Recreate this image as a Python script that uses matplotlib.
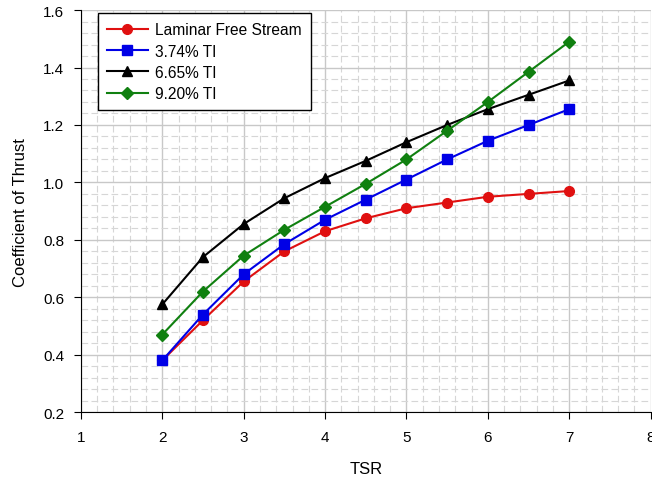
import matplotlib
matplotlib.use('Agg')
import matplotlib.pyplot as plt
from matplotlib.ticker import MultipleLocator

plt.rcParams['font.family'] = ['Liberation Sans', 'DejaVu Sans']

tsr = [2, 2.5, 3, 3.5, 4, 4.5, 5, 5.5, 6, 6.5, 7]
laminar = [0.38, 0.52, 0.655, 0.76, 0.83, 0.875, 0.91, 0.93, 0.95, 0.96, 0.97]
ti_374 = [0.38, 0.54, 0.68, 0.785, 0.87, 0.94, 1.01, 1.08, 1.145, 1.20, 1.255]
ti_665 = [0.575, 0.74, 0.855, 0.945, 1.015, 1.075, 1.14, 1.20, 1.255, 1.305, 1.355]
ti_920 = [0.47, 0.62, 0.745, 0.835, 0.915, 0.995, 1.08, 1.18, 1.28, 1.385, 1.49]

fig = plt.figure(figsize=(6.52, 4.81), dpi=100)
ax = fig.add_axes([0.124, 0.141, 0.874, 0.836])

ax.xaxis.set_major_locator(MultipleLocator(1))
ax.xaxis.set_minor_locator(MultipleLocator(0.2))
ax.yaxis.set_major_locator(MultipleLocator(0.2))
ax.yaxis.set_minor_locator(MultipleLocator(0.04))
ax.grid(which='major', color='#c8c8c8', lw=1.0)
ax.grid(which='minor', color='#d6d6d6', lw=0.8, ls=(0, (6, 3)))
ax.set_axisbelow(True)

ax.plot(tsr, laminar, color='#e01010', marker='o', ms=7, lw=1.5, label='Laminar Free Stream')
ax.plot(tsr, ti_374, color='#0000e6', marker='s', ms=7, lw=1.5, label='3.74% TI')
ax.plot(tsr, ti_665, color='black', marker='^', ms=7.5, lw=1.5, label='6.65% TI')
ax.plot(tsr, ti_920, color='#108010', marker='D', ms=6.5, lw=1.5, label='9.20% TI')

ax.set_xlim(1, 8)
ax.set_ylim(0.2, 1.6)
ax.set_xticks(range(1, 9))
ax.set_xticklabels([str(i) for i in range(1, 9)])
ax.set_yticks([0.2, 0.4, 0.6, 0.8, 1.0, 1.2, 1.4, 1.6])
ax.set_yticklabels(['0.2', '0.4', '0.6', '0.8', '1.0', '1.2', '1.4', '1.6'])
ax.tick_params(which='major', direction='out', length=5, labelsize=11, colors='black')
ax.tick_params(which='minor', length=0)
ax.tick_params(axis='x', pad=8)
ax.tick_params(axis='y', pad=7)
for s in ['top', 'right']:
    ax.spines[s].set_visible(False)

ax.set_xlabel('TSR', fontsize=12, labelpad=12)
ax.set_ylabel('Coefficient of Thrust', fontsize=12, labelpad=11)

leg = ax.legend(loc='upper left', bbox_to_anchor=(0.016, 1.012), fontsize=11.2,
                fancybox=False, framealpha=1, edgecolor='black',
                handlelength=2.6, handletextpad=0.5, borderpad=0.6, labelspacing=0.4)
leg.get_frame().set_linewidth(1.0)

fig.savefig('out.png', dpi=100)
